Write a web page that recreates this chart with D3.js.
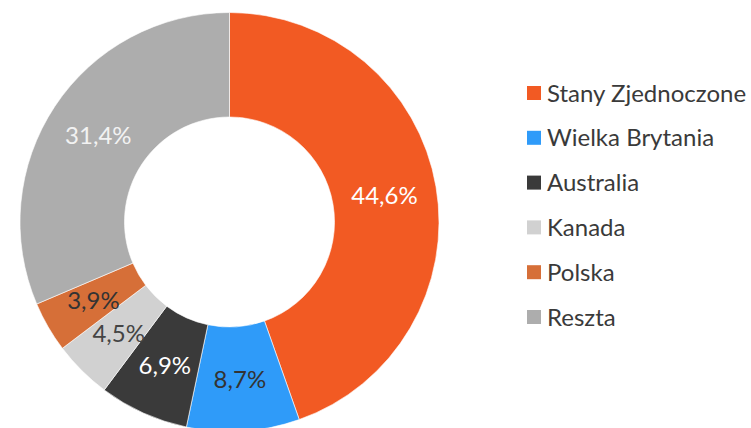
<!DOCTYPE html>
<html>
<head>
<meta charset="utf-8">
<script src="https://cdn.jsdelivr.net/npm/d3@7"></script>
<style>
  body { margin: 0; background: #fff; }
  svg { display: block; font-family: Lato, "Open Sans", sans-serif; }
</style>
</head>
<body>
<div id="chart"></div>
<script>
const countries = ["Stany Zjednoczone", "Wielka Brytania", "Australia", "Kanada", "Polska", "Reszta"];
const shares = [44.6, 8.7, 6.9, 4.5, 3.9, 31.4];
const colors = ["#f25a23", "#2f9bf9", "#3a3a3a", "#d1d1d1", "#d66f38", "#adadad"];
const labelColors = ["#ffffff", "#333333", "#ffffff", "#444444", "#333333", "#f2f2f2"];

const width = 751, height = 428;
const cx = 229.5, cy = 222;
const outerR = 209.5, innerR = 105;

const svg = d3.select("#chart")
    .append("svg")
    .attr("width", width)
    .attr("height", height);

const pie = d3.pie().sort(null).value(d => d);
const arcs = pie(shares);

const arc = d3.arc().innerRadius(innerR).outerRadius(outerR);

const g = svg.append("g")
    .attr("transform", `translate(${cx},${cy})`);

g.selectAll("path")
    .data(arcs)
    .join("path")
    .attr("d", arc)
    .attr("fill", (d, i) => colors[i])
    .attr("stroke", "#fff")
    .attr("stroke-width", 0.6);

const fmt = v => v.toFixed(1).replace(".", ",") + "%";

g.selectAll("text")
    .data(arcs)
    .join("text")
    .attr("transform", d => `translate(${arc.centroid(d)})`)
    .attr("text-anchor", "middle")
    .attr("dy", "0.36em")
    .attr("font-size", 24)
    .attr("fill", (d, i) => labelColors[i])
    .text(d => fmt(d.data));

// legend
const legend = svg.append("g")
    .attr("transform", "translate(527,93)");

const row = legend.selectAll("g")
    .data(countries)
    .join("g")
    .attr("transform", (d, i) => `translate(0,${i * 44.8})`);

row.append("rect")
    .attr("x", 0)
    .attr("y", -7)
    .attr("width", 14)
    .attr("height", 14)
    .attr("fill", (d, i) => colors[i]);

row.append("text")
    .attr("x", 20)
    .attr("dy", "0.36em")
    .attr("font-size", 24)
    .attr("fill", "#3a3a3a")
    .text(d => d);
</script>
</body>
</html>
